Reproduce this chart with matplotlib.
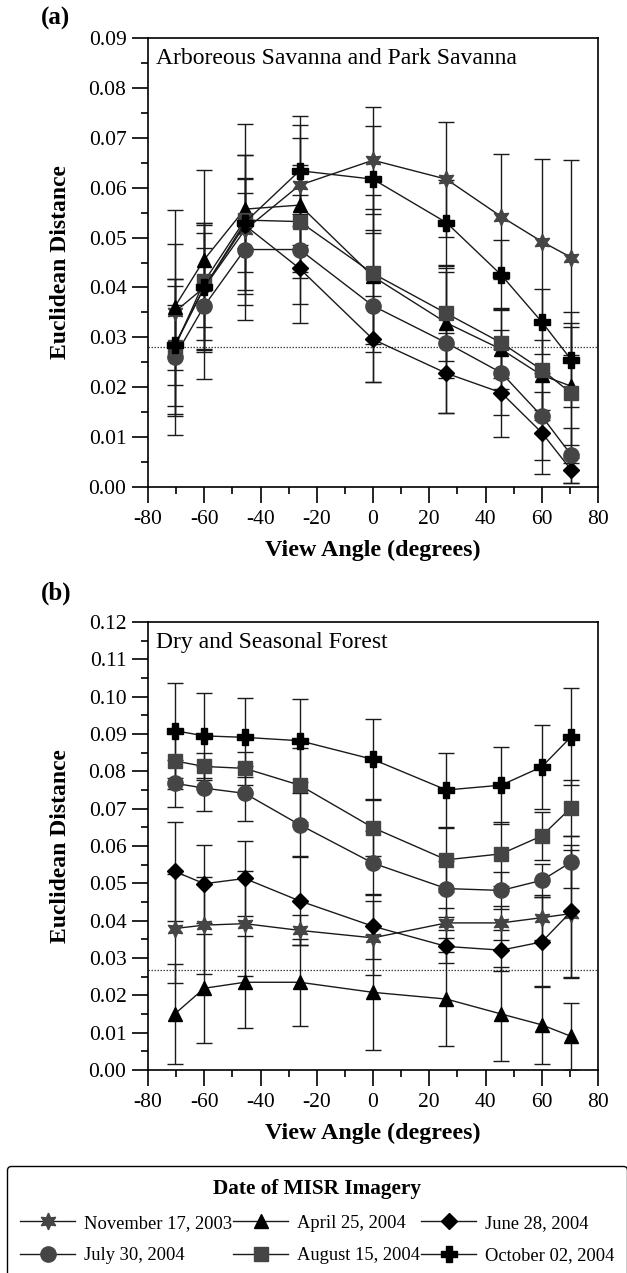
import matplotlib
matplotlib.use("Agg")
import matplotlib.pyplot as plt
from matplotlib.ticker import MultipleLocator, FormatStrFormatter
from matplotlib.lines import Line2D

plt.rcParams['font.family'] = ['Liberation Serif', 'DejaVu Serif']
plt.rcParams['axes.unicode_minus'] = False

angles = [-70.5, -60, -45.6, -26.1, 0, 26.1, 45.6, 60, 70.5]

labels = ["November 17, 2003", "April 25, 2004", "June 28, 2004",
          "July 30, 2004", "August 15, 2004", "October 02, 2004"]

# Panel (a): Arboreous Savanna and Park Savanna
a_nov = [0.0351, 0.0400, 0.0515, 0.0605, 0.0655, 0.0617, 0.0542, 0.0492, 0.0460]
a_apr = [0.0361, 0.0456, 0.0557, 0.0565, 0.0422, 0.0329, 0.0276, 0.0224, 0.0202]
a_jun = [0.0283, 0.0400, 0.0525, 0.0438, 0.0296, 0.0228, 0.0189, 0.0109, 0.0034]
a_jul = [0.0261, 0.0363, 0.0476, 0.0476, 0.0363, 0.0289, 0.0229, 0.0142, 0.0064]
a_aug = [0.0280, 0.0412, 0.0535, 0.0532, 0.0428, 0.0348, 0.0289, 0.0235, 0.0188]
a_oct = [0.0285, 0.0400, 0.0530, 0.0634, 0.0617, 0.0530, 0.0425, 0.0331, 0.0255]

a_nov_err = [0.0204, 0.0130, 0.0150, 0.0120, 0.0107, 0.0115, 0.0125, 0.0165, 0.0195]
a_apr_err = [0.0127, 0.0180, 0.0170, 0.0135, 0.0135, 0.0110, 0.0080, 0.0070, 0.0118]
a_jun_err = [0.0120, 0.0080, 0.0095, 0.0110, 0.0086, 0.0080, 0.0088, 0.0082, 0.0025]
a_jul_err = [0.0156, 0.0146, 0.0141, 0.0110, 0.0152, 0.0141, 0.0085, 0.0087, 0.0055]
a_aug_err = [0.0137, 0.0118, 0.0055, 0.0113, 0.0157, 0.0095, 0.0070, 0.0100, 0.0140]
a_oct_err = [0.0080, 0.0125, 0.0135, 0.0110, 0.0107, 0.0085, 0.0070, 0.0065, 0.0095]
a_threshold = 0.0281

# Panel (b): Dry and Seasonal Forest
b_nov = [0.0379, 0.0388, 0.0392, 0.0374, 0.0354, 0.0394, 0.0394, 0.0408, 0.0419]
b_apr = [0.0150, 0.0219, 0.0235, 0.0235, 0.0208, 0.0190, 0.0150, 0.0121, 0.0090]
b_jun = [0.0532, 0.0499, 0.0513, 0.0453, 0.0385, 0.0331, 0.0321, 0.0343, 0.0425]
b_jul = [0.0768, 0.0755, 0.0741, 0.0657, 0.0554, 0.0486, 0.0481, 0.0508, 0.0557]
b_aug = [0.0828, 0.0813, 0.0808, 0.0763, 0.0649, 0.0563, 0.0579, 0.0627, 0.0703]
b_oct = [0.0909, 0.0895, 0.0891, 0.0882, 0.0832, 0.0750, 0.0763, 0.0812, 0.0893]

b_nov_err = [0.0145, 0.0130, 0.0140, 0.0040, 0.0100, 0.0040, 0.0045, 0.0060, 0.0170]
b_apr_err = [0.0134, 0.0146, 0.0123, 0.0117, 0.0154, 0.0127, 0.0125, 0.0105, 0.0089]
b_jun_err = [0.0132, 0.0105, 0.0100, 0.0117, 0.0087, 0.0045, 0.0055, 0.0120, 0.0178]
b_jul_err = [0.0063, 0.0060, 0.0073, 0.0085, 0.0085, 0.0075, 0.0050, 0.0045, 0.0070]
b_aug_err = [0.0075, 0.0035, 0.0045, 0.0100, 0.0075, 0.0085, 0.0085, 0.0065, 0.0075]
b_oct_err = [0.0127, 0.0114, 0.0106, 0.0111, 0.0107, 0.0100, 0.0103, 0.0112, 0.0129]
b_threshold = 0.0269

grey = '#454545'
styles = [
    dict(marker=(6, 1, 0), ms=12, mfc=grey, mec=grey),   # Nov 17 2003 (6-point star)
    dict(marker='^', ms=10, mfc='black', mec='black'),   # Apr 25
    dict(marker='D', ms=8, mfc='black', mec='black'),    # Jun 28
    dict(marker='o', ms=11, mfc=grey, mec=grey),         # Jul 30
    dict(marker='s', ms=10, mfc=grey, mec=grey),         # Aug 15
    dict(marker='P', ms=12, mfc='black', mec='black'),   # Oct 02
]

fig = plt.figure(figsize=(6.27, 12.73), dpi=100)

W, H = 627.0, 1273.0
axA = fig.add_axes([148 / W, 1 - 487 / H, 450 / W, 449 / H])
axB = fig.add_axes([148 / W, 1 - 1070 / H, 450 / W, 448 / H])

def draw(ax, series, errs, thr, ymax, title):
    for vals, err, st in zip(series, errs, styles):
        ax.errorbar(angles, vals, yerr=err, color='#1a1a1a', lw=1.0,
                    ecolor='#1a1a1a', elinewidth=1.0, capsize=6, capthick=1.0,
                    marker=st['marker'], ms=st['ms'], mfc=st['mfc'], mec=st['mec'],
                    zorder=3)
    ax.axhline(thr, color='#444444', lw=0.9, ls=(0, (1.2, 1.2)), zorder=1)
    ax.set_xlim(-80, 80)
    ax.set_ylim(0, ymax)
    ax.xaxis.set_major_locator(MultipleLocator(20))
    ax.xaxis.set_minor_locator(MultipleLocator(10))
    ax.yaxis.set_major_locator(MultipleLocator(0.01))
    ax.yaxis.set_minor_locator(MultipleLocator(0.005))
    ax.yaxis.set_major_formatter(FormatStrFormatter('%.2f'))
    ax.tick_params(which='major', direction='out', length=11.5, width=1.2,
                   labelsize=15.5, top=False, right=False)
    ax.tick_params(axis='y', which='major', pad=4)
    ax.tick_params(axis='x', which='major', pad=5)
    ax.tick_params(which='minor', direction='out', length=5, width=1.2,
                   top=False, right=False)
    for sp in ax.spines.values():
        sp.set_linewidth(1.2)
    ax.set_xlabel('View Angle (degrees)', fontsize=17.3, fontweight='bold', labelpad=8)
    ax.set_ylabel('Euclidean Distance', fontsize=17, fontweight='bold', labelpad=13)
    ax.text(8 / 450, 1 - 10 / 449, title, transform=ax.transAxes, fontsize=17,
            ha='left', va='top')

draw(axA, [a_nov, a_apr, a_jun, a_jul, a_aug, a_oct],
     [a_nov_err, a_apr_err, a_jun_err, a_jul_err, a_aug_err, a_oct_err],
     a_threshold, 0.09, 'Arboreous Savanna and Park Savanna')
draw(axB, [b_nov, b_apr, b_jun, b_jul, b_aug, b_oct],
     [b_nov_err, b_apr_err, b_jun_err, b_jul_err, b_aug_err, b_oct_err],
     b_threshold, 0.12, 'Dry and Seasonal Forest')

fig.text(41 / W, 1 - 18 / H, '(a)', fontsize=18, fontweight='bold', ha='left', va='center')
fig.text(41 / W, 1 - 593 / H, '(b)', fontsize=18, fontweight='bold', ha='left', va='center')

# legend
handles = [Line2D([0], [0], color='#1a1a1a', lw=1.0, marker=st['marker'], ms=st['ms'],
                  mfc=st['mfc'], mec=st['mec']) for st in styles]
order = [0, 3, 1, 4, 2, 5]
leg = fig.legend([handles[i] for i in order], [labels[i] for i in order],
                 loc='upper left', bbox_to_anchor=(7 / W, 1 - 1286 / H, 1 - 7 / W, 120 / H),
                 mode='expand', ncol=3, fontsize=13.3, frameon=True, fancybox=True,
                 edgecolor='black', handlelength=3.0, handletextpad=0.45,
                 columnspacing=0.3, borderpad=0.7, labelspacing=0.85,
                 borderaxespad=0.0,
                 title='Date of MISR Imagery',
                 title_fontproperties={'size': 15.3, 'weight': 'bold'})
leg.get_frame().set_linewidth(1.0)
leg.get_frame().set_alpha(None)

fig.savefig('out.png', dpi=100)
